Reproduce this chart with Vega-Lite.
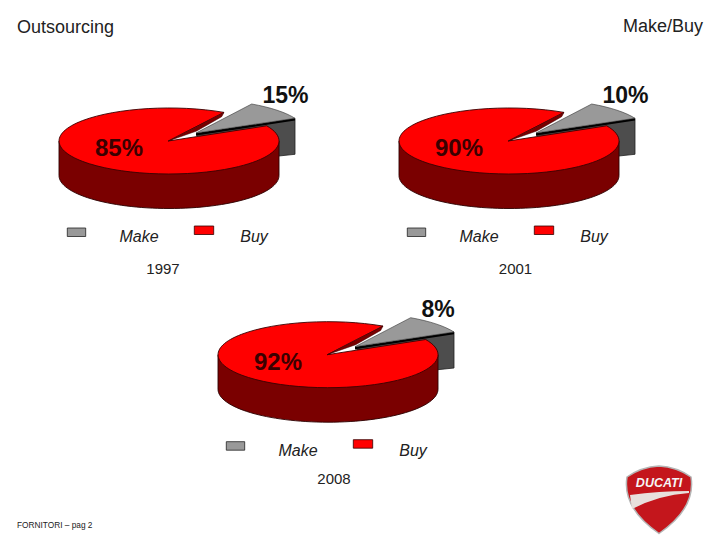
{"$schema":"https://vega.github.io/schema/vega-lite/v6.json","width":720,"height":540,"padding":0,"autosize":{"type":"none"},"background":"white","view":{"stroke":null},
"data":{"values":[
{"year":1997,"segment":"Make","value":0.15},{"year":1997,"segment":"Buy","value":0.85},
{"year":2001,"segment":"Make","value":0.10},{"year":2001,"segment":"Buy","value":0.90},
{"year":2008,"segment":"Make","value":0.08},{"year":2008,"segment":"Buy","value":0.92}]},
"encoding":{
"x":{"field":"year","type":"quantitative","axis":null,"scale":{"domain":[1997,2001,2008],"range":[169,509,328],"zero":false,"nice":false}},
"y":{"field":"year","type":"quantitative","axis":null,"scale":{"domain":[1997,2001,2008],"range":[141,141,354.7],"zero":false,"nice":false}}},
"layer":[
{"transform":[{"filter":"datum.segment=='Make'"}],"mark":{"type":"point","filled":true,"size":4,"opacity":1,"fill":"#4d4d4d","stroke":"#222","strokeWidth":0.8,"shape":"M27 -6 L126 -22.7 L126 13.3 L109.7 15 L90 15 Z"}},
{"transform":[{"filter":"datum.segment=='Make'"}],"mark":{"type":"point","filled":true,"size":4,"opacity":1,"fill":"#000","strokeWidth":0,"shape":"M27 -8 L126 -22.7 L126 -20.5 L27 -5.5 Z"}},
{"transform":[{"filter":"datum.segment=='Make'"}],"mark":{"type":"point","filled":true,"size":4,"opacity":1,"fill":"#999999","stroke":"#333","strokeWidth":0.6,"shape":"M27 -8 L82.7 -37 A110 33 0 0 1 126 -22.7 Z"}},
{"transform":[{"filter":"datum.segment=='Buy'"}],"mark":{"type":"point","filled":true,"size":4,"opacity":1,"fill":"#7a0000","stroke":"#2a0000","strokeWidth":0.9,"shape":"M-110 0 L-110 34.5 A110 33 0 0 0 110 34.5 L110 0 Z"}},
{"transform":[{"filter":"datum.segment=='Buy'"}],"mark":{"type":"point","filled":true,"size":4,"opacity":1,"fill":"#ff0000","stroke":"#3a0000","strokeWidth":0.9,"shape":"M-0.7 0 L55 -28.6 A110 33 0 1 0 97.7 -15.2 Z"}},
{"transform":[{"filter":"datum.segment=='Buy'"}],"mark":{"type":"point","filled":true,"size":4,"opacity":1,"fill":"#7a0000","stroke":"#3a0000","strokeWidth":0.5,"shape":"M-0.7 0 L55 -28.6 L52.7 -24.3 L27.7 -10 Z"}},
{"transform":[{"filter":"datum.segment=='Make'"}],"mark":{"type":"point","filled":true,"size":4,"opacity":1,"fill":"#999999","stroke":"#222","strokeWidth":0.8,"shape":"M-101.7 87 L-83.3 87 L-83.3 95.5 L-101.7 95.5 Z"}},
{"transform":[{"filter":"datum.segment=='Buy'"}],"mark":{"type":"point","filled":true,"size":4,"opacity":1,"fill":"#ff0000","stroke":"#300","strokeWidth":0.8,"shape":"M25.3 85 L44.7 85 L44.7 93.5 L25.3 93.5 Z"}},
{"transform":[{"filter":"datum.segment=='Make'"}],"mark":{"type":"text","font":"Liberation Sans","fontSize":23,"fontWeight":"bold","align":"left","baseline":"middle","dx":93.5,"dy":-45,"fill":"#111"},"encoding":{"text":{"field":"value","type":"quantitative","format":".0%"}}},
{"transform":[{"filter":"datum.segment=='Buy'"}],"mark":{"type":"text","font":"Liberation Sans","fontSize":24,"fontWeight":"bold","align":"center","baseline":"middle","dx":-50,"dy":8,"fill":"#3a0000"},"encoding":{"text":{"field":"value","type":"quantitative","format":".0%"}}},
{"transform":[{"filter":"datum.segment=='Make'"}],"mark":{"type":"text","font":"Liberation Sans","fontSize":16,"fontStyle":"italic","align":"center","baseline":"middle","dx":-30,"dy":96,"fill":"#222"},"encoding":{"text":{"field":"segment","type":"nominal"}}},
{"transform":[{"filter":"datum.segment=='Buy'"}],"mark":{"type":"text","font":"Liberation Sans","fontSize":16,"fontStyle":"italic","align":"center","baseline":"middle","dx":85,"dy":96,"fill":"#222"},"encoding":{"text":{"field":"segment","type":"nominal"}}},
{"transform":[{"filter":"datum.segment=='Make' && datum.year==1997"}],"mark":{"type":"text","font":"Liberation Sans","fontSize":15,"align":"center","baseline":"middle","dx":-6,"dy":128,"fill":"#222"},"encoding":{"text":{"field":"year","type":"nominal"}}},
{"transform":[{"filter":"datum.segment=='Make' && datum.year==2001"}],"mark":{"type":"text","font":"Liberation Sans","fontSize":15,"align":"center","baseline":"middle","dx":6.5,"dy":127.5,"fill":"#222"},"encoding":{"text":{"field":"year","type":"nominal"}}},
{"transform":[{"filter":"datum.segment=='Make' && datum.year==2008"}],"mark":{"type":"text","font":"Liberation Sans","fontSize":15,"align":"center","baseline":"middle","dx":6,"dy":124,"fill":"#222"},"encoding":{"text":{"field":"year","type":"nominal"}}},
{"data":{"values":[{"label":"Outsourcing"}]},"mark":{"type":"text","font":"Liberation Sans","fontSize":18,"align":"left","baseline":"middle","fill":"#222"},"encoding":{"x":{"value":17},"y":{"value":28},"text":{"field":"label","type":"nominal"}}},
{"data":{"values":[{"label":"Make/Buy"}]},"mark":{"type":"text","font":"Liberation Sans","fontSize":18,"align":"right","baseline":"middle","fill":"#222"},"encoding":{"x":{"value":703},"y":{"value":27},"text":{"field":"label","type":"nominal"}}},
{"data":{"values":[{"label":"FORNITORI – pag 2"}]},"mark":{"type":"text","font":"Liberation Sans","fontSize":8.3,"align":"left","baseline":"middle","fill":"#222"},"encoding":{"x":{"value":17},"y":{"value":526},"text":{"field":"label","type":"nominal"}}},
{"data":{"values":[{"label":"DUCATI"}]},"mark":{"type":"point","filled":true,"size":4,"opacity":1,"fill":"#c4161c","stroke":"#b5b5b5","strokeWidth":1.5,"shape":"M0 -34 Q18 -33 32 -23 Q37 8 0 33.5 Q-37 8 -32 -23 Q-18 -33 0 -34 Z"},"encoding":{"x":{"value":659},"y":{"value":500}}},
{"data":{"values":[{"label":"DUCATI"}]},"mark":{"type":"point","filled":true,"size":4,"opacity":1,"fill":"#e8e0dc","strokeWidth":0,"shape":"M-29 -5 Q0 -9 30 -9 L30 -7 Q0 -5 -27 9 Z"},"encoding":{"x":{"value":659},"y":{"value":500}}},
{"data":{"values":[{"label":"DUCATI"}]},"mark":{"type":"text","font":"Liberation Sans","fontSize":12.5,"fontWeight":"bold","fontStyle":"italic","align":"center","baseline":"middle","fill":"#f5f5f5"},"encoding":{"x":{"value":659},"y":{"value":482.5},"text":{"field":"label","type":"nominal"}}}
]}
